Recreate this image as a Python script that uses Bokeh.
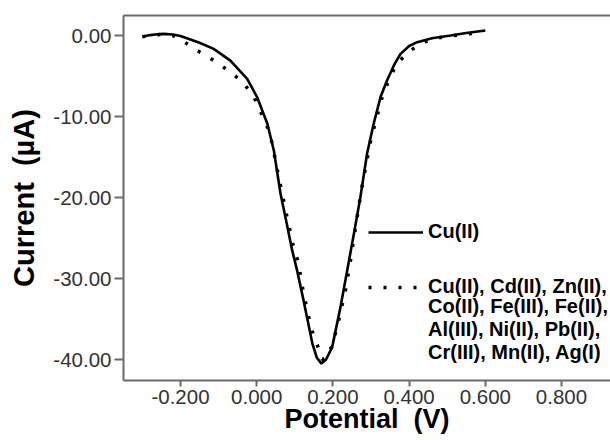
from bokeh.plotting import figure
from bokeh.models import (Range1d, FixedTicker, NumeralTickFormatter, LinearAxis,
                          Legend, LegendItem)
from bokeh.embed import file_html
from bokeh.resources import INLINE

# Cu(II) only (solid)
cu_x = [-0.300, -0.280, -0.260, -0.245, -0.220, -0.200, -0.150, -0.113, -0.069, -0.025,
        0.001, 0.028, 0.045, 0.0625, 0.080, 0.093, 0.106, 0.123, 0.146, 0.158,
        0.170, 0.182, 0.198, 0.220, 0.2375, 0.255, 0.272, 0.290, 0.307, 0.325,
        0.342, 0.360, 0.377, 0.400, 0.421, 0.460, 0.509, 0.550, 0.600]
cu_y = [-0.15, 0.05, 0.15, 0.20, 0.12, -0.05, -0.90, -1.65, -3.10, -5.35,
        -7.60, -10.90, -14.20, -19.50, -23.50, -26.50, -29.00, -32.70, -38.00, -39.80,
        -40.50, -40.00, -38.50, -33.50, -29.00, -24.50, -20.00, -14.50, -10.90, -7.60,
        -5.55, -3.70, -2.30, -1.30, -0.82, -0.35, 0.00, 0.30, 0.62]

# Cu(II) with interfering ions (dotted)
mix_x = [-0.300, -0.250, -0.220, -0.196, -0.156, -0.117, -0.077, -0.038, -0.008, 0.028,
         0.040, 0.060, 0.080, 0.095, 0.109, 0.122, 0.139, 0.150, 0.164, 0.172,
         0.185, 0.200, 0.215, 0.233, 0.246, 0.260, 0.275, 0.299, 0.320, 0.331,
         0.347, 0.366, 0.399, 0.439, 0.478, 0.517, 0.557, 0.596]
mix_y = [-0.15, 0.15, 0.00, -0.62, -1.85, -2.96, -4.24, -5.68, -7.50, -11.30,
         -13.20, -18.00, -22.50, -25.80, -28.00, -31.60, -35.30, -37.20, -38.80, -40.00,
         -39.80, -38.00, -35.20, -31.40, -27.80, -23.50, -19.00, -13.00, -9.20, -7.30,
         -5.50, -3.60, -1.98, -0.82, -0.29, 0.00, 0.20, 0.50]

x_ticks = [-0.2, 0.0, 0.2, 0.4, 0.6, 0.8]
y_ticks = [0, -10, -20, -30, -40]

label_cu = "Cu(II)"
label_mix_1 = "Cu(II), Cd(II), Zn(II),"
label_mix_rest = "Co(II), Fe(III), Fe(II),\nAl(III), Ni(II), Pb(II),\nCr(III), Mn(II), Ag(I)"
x_title = "Potential \u00a0(V)"
y_title = "Current \u00a0(µA)"

FONT = "Liberation Sans"

p = figure(width=610, height=440, output_backend="svg", toolbar_location=None,
           x_range=Range1d(-0.3496, 0.9286), y_range=Range1d(-42.59, 2.469),
           min_border_left=123, min_border_right=0, min_border_top=15, min_border_bottom=60)
p.outline_line_color = None
p.grid.grid_line_color = None
p.background_fill_color = "white"
p.border_fill_color = "white"

r_cu = p.line(cu_x, cu_y, line_color="black", line_width=2.6)
r_mix = p.line(mix_x, mix_y, line_color="black", line_width=3.5, line_dash="3 12")
r_blank = p.line(x=[], y=[], line_alpha=0)

AX = "#6a6a6a"
for ax in (p.xaxis[0], p.yaxis[0]):
    ax.axis_line_color = AX
    ax.axis_line_width = 2
    ax.major_tick_line_color = AX
    ax.major_tick_line_width = 2
    ax.major_tick_in = 0
    ax.minor_tick_line_color = None
    ax.major_label_text_font = FONT
    ax.major_label_text_font_size = "20.5px"
    ax.major_label_text_color = "#333333"
    ax.axis_label_text_font = FONT
    ax.axis_label_text_font_style = "bold"
    ax.axis_label_text_color = "black"

p.xaxis[0].ticker = FixedTicker(ticks=x_ticks)
p.xaxis[0].formatter = NumeralTickFormatter(format="0.000")
p.xaxis[0].axis_label = x_title
p.xaxis[0].axis_label_text_font_size = "27px"
p.xaxis[0].major_tick_out = 6
p.xaxis[0].major_label_standoff = 3
p.xaxis[0].axis_label_standoff = -3

p.yaxis[0].ticker = FixedTicker(ticks=y_ticks)
p.yaxis[0].formatter = NumeralTickFormatter(format="0.00")
p.yaxis[0].axis_label = y_title
p.yaxis[0].axis_label_text_font_size = "29px"
p.yaxis[0].major_tick_out = 9
p.yaxis[0].major_label_standoff = 3
p.yaxis[0].axis_label_standoff = 10

top = LinearAxis(ticker=FixedTicker(ticks=[]), axis_line_color=AX, axis_line_width=2,
                 major_tick_line_color=None, minor_tick_line_color=None)
p.add_layout(top, "above")

def mk_legend(item, loc):
    lg = Legend(items=[item], location=loc, orientation="vertical",
                padding=0, margin=0, spacing=0,
                border_line_color=None, background_fill_alpha=0,
                glyph_width=55, glyph_height=20, label_height=20,
                label_standoff=5, label_text_font=FONT, label_text_font_size="20px",
                label_text_font_style="bold", label_text_color="black",
                label_text_line_height=1.0)
    p.add_layout(lg, "center")

mk_legend(LegendItem(label=label_cu, renderers=[r_cu]), (245, 137))
mk_legend(LegendItem(label=label_mix_1, renderers=[r_mix]), (245, 82))
mk_legend(LegendItem(label=label_mix_rest, renderers=[r_blank]), (245, 16))

open("out.html", "w").write(file_html(p, INLINE))
